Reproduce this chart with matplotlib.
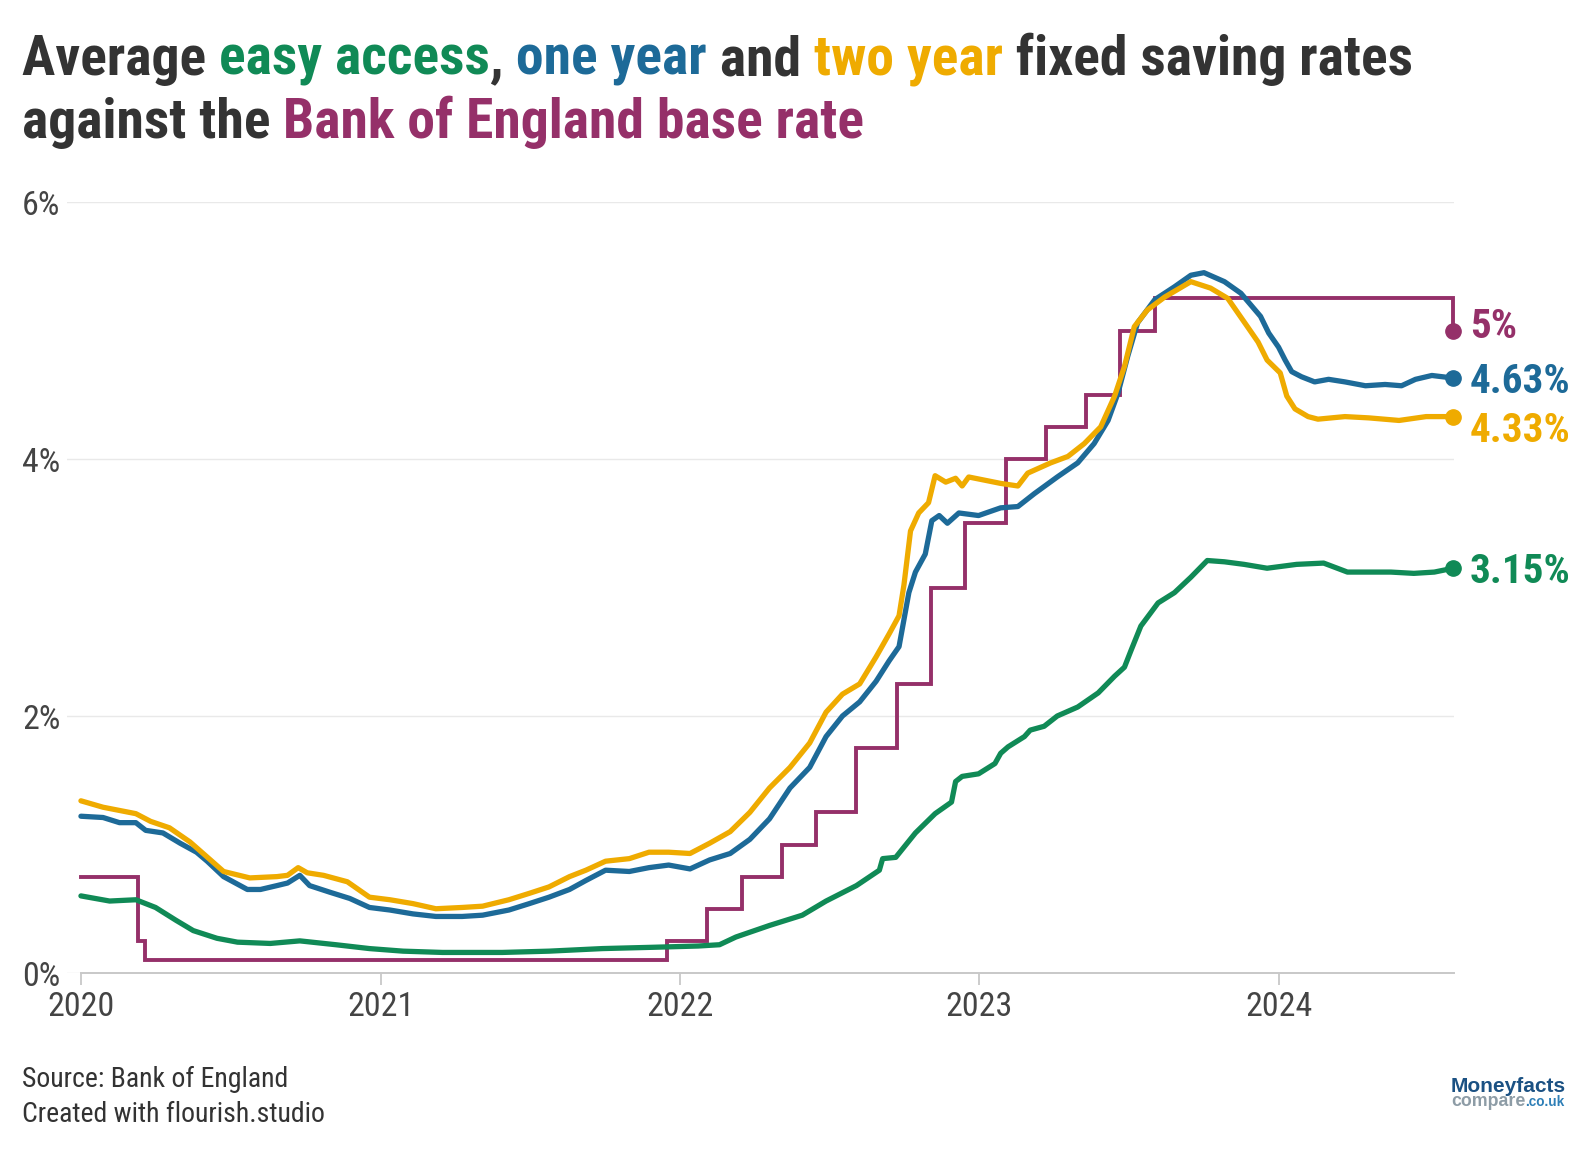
import matplotlib
matplotlib.use('Agg')
import matplotlib.pyplot as plt
import matplotlib.dates as mdates
import pandas as pd
from matplotlib import font_manager

# values (percent)
base_dates = ['2020-01-01', '2020-03-11', '2020-03-19', '2021-12-16', '2022-02-03', '2022-03-17',
              '2022-05-05', '2022-06-16', '2022-08-04', '2022-09-22', '2022-11-03', '2022-12-15',
              '2023-02-02', '2023-03-23', '2023-05-11', '2023-06-22', '2023-08-03', '2024-08-01']
base_rate = [0.75, 0.25, 0.10, 0.25, 0.50, 0.75, 1.00, 1.25, 1.75, 2.25, 3.00, 3.50,
             4.00, 4.25, 4.50, 5.00, 5.25, 5.00]

two_year_dates = ['2020-01-01', '2020-01-28', '2020-03-08', '2020-03-26', '2020-04-18', '2020-05-13',
                  '2020-06-07', '2020-06-23', '2020-07-25', '2020-08-27', '2020-09-09', '2020-09-22',
                  '2020-10-03', '2020-10-23', '2020-11-21', '2020-12-18', '2021-01-12', '2021-02-09',
                  '2021-03-09', '2021-04-10', '2021-05-05', '2021-06-06', '2021-07-01', '2021-07-25',
                  '2021-08-19', '2021-09-08', '2021-10-02', '2021-10-31', '2021-11-24', '2021-12-18',
                  '2022-01-13', '2022-02-06', '2022-03-03', '2022-03-27', '2022-04-20', '2022-05-15',
                  '2022-06-08', '2022-06-28', '2022-07-18', '2022-08-08', '2022-08-28', '2022-09-13',
                  '2022-09-25', '2022-10-01', '2022-10-09', '2022-10-19', '2022-10-31', '2022-11-08',
                  '2022-11-21', '2022-12-03', '2022-12-11', '2022-12-19', '2023-01-27', '2023-02-17',
                  '2023-03-01', '2023-03-29', '2023-04-19', '2023-05-09', '2023-05-29', '2023-06-15',
                  '2023-06-27', '2023-07-09', '2023-07-25', '2023-08-15', '2023-09-16', '2023-10-10',
                  '2023-10-31', '2023-11-24', '2023-12-07', '2023-12-18', '2024-01-03', '2024-01-11',
                  '2024-01-21', '2024-02-06', '2024-02-18', '2024-03-22', '2024-04-20', '2024-05-27',
                  '2024-06-29', '2024-08-01']
two_year = [1.34, 1.29, 1.24, 1.18, 1.13, 1.02, 0.88, 0.79, 0.74, 0.75, 0.76, 0.82,
            0.78, 0.76, 0.71, 0.59, 0.57, 0.54, 0.50, 0.51, 0.52, 0.57, 0.62, 0.67,
            0.75, 0.80, 0.87, 0.89, 0.94, 0.94, 0.93, 1.01, 1.10, 1.25, 1.44, 1.60,
            1.79, 2.03, 2.17, 2.25, 2.46, 2.64, 2.78, 3.02, 3.44, 3.58, 3.66, 3.87,
            3.82, 3.85, 3.79, 3.86, 3.81, 3.79, 3.89, 3.97, 4.02, 4.12, 4.25, 4.49,
            4.72, 5.03, 5.16, 5.26, 5.38, 5.33, 5.25, 5.03, 4.91, 4.77, 4.67, 4.49,
            4.39, 4.33, 4.31, 4.33, 4.32, 4.30, 4.33, 4.33]

one_year_dates = ['2020-01-01', '2020-01-28', '2020-02-17', '2020-03-08', '2020-03-20', '2020-04-10',
                  '2020-05-01', '2020-05-21', '2020-06-03', '2020-06-23', '2020-07-22', '2020-08-07',
                  '2020-08-27', '2020-09-09', '2020-09-24', '2020-10-06', '2020-10-30', '2020-11-24',
                  '2020-12-18', '2021-01-12', '2021-02-09', '2021-03-09', '2021-04-10', '2021-05-05',
                  '2021-06-06', '2021-07-01', '2021-07-25', '2021-08-19', '2021-09-08', '2021-10-02',
                  '2021-10-31', '2021-11-24', '2021-12-18', '2022-01-13', '2022-02-06', '2022-03-03',
                  '2022-03-27', '2022-04-20', '2022-05-15', '2022-06-08', '2022-06-28', '2022-07-18',
                  '2022-08-08', '2022-08-28', '2022-09-13', '2022-09-25', '2022-10-01', '2022-10-07',
                  '2022-10-15', '2022-10-27', '2022-11-04', '2022-11-13', '2022-11-23', '2022-12-07',
                  '2022-12-31', '2023-01-27', '2023-02-17', '2023-03-09', '2023-04-06', '2023-05-01',
                  '2023-05-21', '2023-06-07', '2023-06-19', '2023-07-01', '2023-07-13', '2023-08-03',
                  '2023-08-27', '2023-09-16', '2023-10-02', '2023-10-27', '2023-11-16', '2023-12-10',
                  '2023-12-20', '2024-01-01', '2024-01-09', '2024-01-17', '2024-01-29', '2024-02-14',
                  '2024-03-02', '2024-03-22', '2024-04-16', '2024-05-10', '2024-05-30', '2024-06-16',
                  '2024-07-06', '2024-08-01']
one_year = [1.22, 1.21, 1.17, 1.17, 1.11, 1.09, 1.01, 0.94, 0.87, 0.75, 0.65, 0.65,
            0.68, 0.70, 0.76, 0.68, 0.63, 0.58, 0.51, 0.49, 0.46, 0.44, 0.44, 0.45,
            0.49, 0.54, 0.59, 0.65, 0.72, 0.80, 0.79, 0.82, 0.84, 0.81, 0.88, 0.93,
            1.04, 1.20, 1.44, 1.60, 1.84, 2.00, 2.11, 2.27, 2.43, 2.54, 2.75, 2.96,
            3.12, 3.26, 3.52, 3.56, 3.50, 3.58, 3.56, 3.62, 3.63, 3.73, 3.86, 3.97,
            4.12, 4.30, 4.51, 4.80, 5.06, 5.24, 5.34, 5.43, 5.45, 5.38, 5.29, 5.11,
            4.98, 4.87, 4.77, 4.68, 4.64, 4.60, 4.62, 4.60, 4.57, 4.58, 4.57, 4.62,
            4.65, 4.63]

easy_dates = ['2020-01-01', '2020-02-05', '2020-03-08', '2020-04-01', '2020-04-26', '2020-05-17',
              '2020-06-15', '2020-07-10', '2020-08-19', '2020-09-24', '2020-11-07', '2020-12-18',
              '2021-01-28', '2021-03-17', '2021-05-29', '2021-07-25', '2021-09-28', '2021-11-28',
              '2022-01-23', '2022-02-18', '2022-03-10', '2022-04-20', '2022-05-30', '2022-06-28',
              '2022-08-04', '2022-09-01', '2022-09-05', '2022-09-21', '2022-10-15', '2022-11-08',
              '2022-11-28', '2022-12-03', '2022-12-11', '2022-12-31', '2023-01-20', '2023-01-27',
              '2023-02-05', '2023-02-25', '2023-03-04', '2023-03-21', '2023-04-06', '2023-05-01',
              '2023-05-26', '2023-06-15', '2023-06-27', '2023-07-05', '2023-07-17', '2023-08-07',
              '2023-08-27', '2023-09-16', '2023-10-06', '2023-10-27', '2023-11-20', '2023-12-18',
              '2024-01-23', '2024-02-25', '2024-03-25', '2024-04-19', '2024-05-17', '2024-06-14',
              '2024-07-09', '2024-08-01']
easy_access = [0.60, 0.56, 0.57, 0.51, 0.41, 0.33, 0.27, 0.24, 0.23, 0.25, 0.22, 0.19,
               0.17, 0.16, 0.16, 0.17, 0.19, 0.20, 0.21, 0.22, 0.28, 0.37, 0.45, 0.56,
               0.68, 0.80, 0.89, 0.90, 1.09, 1.24, 1.33, 1.49, 1.53, 1.55, 1.63, 1.71,
               1.76, 1.84, 1.89, 1.92, 2.00, 2.07, 2.18, 2.31, 2.38, 2.51, 2.70, 2.88,
               2.96, 3.08, 3.21, 3.20, 3.18, 3.15, 3.18, 3.19, 3.12, 3.12, 3.12, 3.11,
               3.12, 3.15]

end_labels = ['5%', '4.63%', '4.33%', '3.15%']
year_ticks = ['2020', '2021', '2022', '2023', '2024']
pct_ticks = [0, 2, 4, 6]

GREEN = '#108a56'
BLUE = '#1d6a98'
YELLOW = '#efab00'
PURPLE = '#953069'
DARK = '#333333'

names = {f.name for f in font_manager.fontManager.ttflist}
FONT = 'Roboto Condensed' if 'Roboto Condensed' in names else 'Roboto'
plt.rcParams['font.family'] = [FONT, 'DejaVu Sans']

W, H = 1592, 1150
fig = plt.figure(figsize=(W / 100, H / 100), dpi=100)
renderer = fig.canvas.get_renderer()


def text_width(s, **kw):
    # advance width of s in pixels (trailing spaces included)
    t = fig.text(0, 0, s + 'x', **kw)
    u = fig.text(0, 0, 'x', **kw)
    w = t.get_window_extent(renderer).width - u.get_window_extent(renderer).width
    t.remove()
    u.remove()
    return w


def colour_line(parts, x_px, y_px, **kw):
    x = x_px
    for s, c in parts:
        fig.text(x / W, 1 - y_px / H, s, color=c, ha='left', va='baseline', **kw)
        x += text_width(s, **kw)


line1 = [('Average ', DARK), ('easy access', GREEN), (', ', DARK), ('one year', BLUE),
         (' and ', DARK), ('two year', YELLOW), (' fixed saving rates', DARK)]
line2 = [('against the ', DARK), ('Bank of England base rate', PURPLE)]

tsize = 42
full = ''.join(s for s, c in line1)
w = text_width(full, fontsize=tsize, fontweight='bold')
if w > 1389:
    tsize = tsize * 1389 / w
colour_line(line1, 22, 75, fontsize=tsize, fontweight='bold')
colour_line(line2, 22, 138, fontsize=tsize, fontweight='bold')

# plot area
ax = fig.add_axes([67 / W, 1 - 973 / H, (1454 - 67) / W, (973 - 202) / H])
d = pd.to_datetime

ax.plot(d(base_dates), base_rate, drawstyle='steps-post', color=PURPLE, lw=2.8,
        solid_joinstyle='miter', zorder=3, clip_on=False)
ax.plot(d(easy_dates), easy_access, color=GREEN, lw=3.8, solid_joinstyle='round',
        solid_capstyle='round', zorder=4, clip_on=False)
ax.plot(d(one_year_dates), one_year, color=BLUE, lw=3.8, solid_joinstyle='round',
        solid_capstyle='round', zorder=5, clip_on=False)
ax.plot(d(two_year_dates), two_year, color=YELLOW, lw=3.8, solid_joinstyle='round',
        solid_capstyle='round', zorder=6, clip_on=False)

# end points and labels
ends = [(base_dates[-1], base_rate[-1], PURPLE, 4.8),
        (one_year_dates[-1], one_year[-1], BLUE, 0),
        (two_year_dates[-1], two_year[-1], YELLOW, -7.7),
        (easy_dates[-1], easy_access[-1], GREEN, 0)]
for (dt, v, c, dy), lab in zip(ends, end_labels):
    ax.plot(d([dt]), [v], 'o', color=c, ms=11, zorder=7, clip_on=False)
    ax.annotate(lab, (d(dt), v), xytext=(12, dy - 10.5), textcoords='offset points',
                ha='left', va='baseline', color=c, fontsize=29.5, fontweight='bold',
                annotation_clip=False)

ax.set_ylim(0, 6)
ax.set_xlim(d('2019-12-15'), d('2024-08-02'))
ax.set_yticks(pct_ticks)
ax.set_yticklabels(['{}%'.format(p) for p in pct_ticks])
for lab in ax.get_yticklabels():
    lab.set_ha('left')
ax.tick_params(axis='y', length=0, pad=32.4, labelsize=24.5, labelcolor='#444444')
ax.set_xticks(d([y + '-01-01' for y in year_ticks]))
ax.set_xticklabels(year_ticks)
ax.tick_params(axis='x', length=8.6, width=1.3, color='#c8c8c8', pad=4.5,
               labelsize=24.5, labelcolor='#444444')
ax.grid(axis='y', color='#e9e9e9', lw=1.0, zorder=0)
for s in ['top', 'right', 'left']:
    ax.spines[s].set_visible(False)
ax.spines['bottom'].set_color('#c8c8c8')
ax.spines['bottom'].set_linewidth(1.4)
ax.spines['bottom'].set_bounds(mdates.date2num(d('2020-01-01')), mdates.date2num(d('2024-08-02')))
ax.set_axisbelow(True)

# footer
fig.text(22 / W, 1 - 1087 / H, 'Source: Bank of England', fontsize=20, color=DARK,
         ha='left', va='baseline')
fig.text(22 / W, 1 - 1122 / H, 'Created with flourish.studio', fontsize=20, color=DARK,
         ha='left', va='baseline')

# logo
logo = dict(fontweight='bold', family='Liberation Sans')
fig.text(1451 / W, 1 - 1092 / H, 'Moneyfacts', fontsize=15, color='#1b5183',
         ha='left', va='baseline', **logo)
fig.text(1451 / W, 1 - 1106 / H, 'compare', fontsize=12.8, color='#8d9ca6',
         ha='left', va='baseline', **logo)
cw = text_width('compare', fontsize=12.8, **logo)
fig.text((1451 + cw) / W, 1 - 1106 / H, '.co.uk', fontsize=9.8, color='#2e7fb7',
         ha='left', va='baseline', **logo)

fig.savefig('out.png', dpi=100, facecolor='white')
